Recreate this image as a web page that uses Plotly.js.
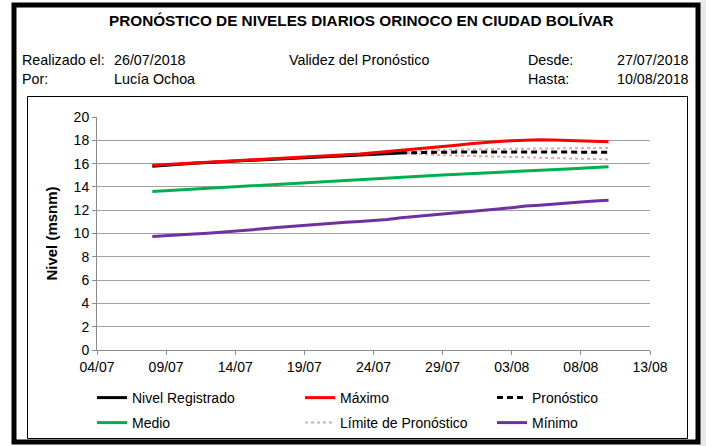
<!DOCTYPE html>
<html>
<head>
<meta charset="utf-8">
<script src="https://cdn.plot.ly/plotly-3.0.1.min.js"></script>
<style>html,body{margin:0;padding:0;background:#fff;}#chart{width:706px;height:446px;}</style>
</head>
<body>
<div id="chart"></div>
<script>
// ---- data ----
const obsDates = ["2018-07-08","2018-07-09","2018-07-10","2018-07-11","2018-07-12","2018-07-13","2018-07-14","2018-07-15","2018-07-16","2018-07-17","2018-07-18","2018-07-19","2018-07-20","2018-07-21","2018-07-22","2018-07-23","2018-07-24","2018-07-25","2018-07-26"];
const fcDates = ["2018-07-26","2018-07-27","2018-07-28","2018-07-29","2018-07-30","2018-07-31","2018-08-01","2018-08-02","2018-08-03","2018-08-04","2018-08-05","2018-08-06","2018-08-07","2018-08-08","2018-08-09","2018-08-10"];
const allDates = obsDates.slice(0, 18).concat(fcDates);
const nivelRegistrado = [15.78,15.88,15.96,16.03,16.10,16.16,16.23,16.30,16.37,16.44,16.50,16.56,16.62,16.68,16.74,16.79,16.83,16.87,16.92];
const maximo = [15.85,15.93,16.00,16.06,16.12,16.18,16.25,16.32,16.40,16.46,16.52,16.58,16.64,16.70,16.76,16.82,16.92,17.05,17.15,17.25,17.35,17.45,17.57,17.70,17.82,17.90,17.97,18.02,18.04,18.03,17.98,17.92,17.88,17.87];
const medio = [13.60,13.67,13.75,13.82,13.89,13.96,14.03,14.10,14.17,14.24,14.31,14.38,14.45,14.52,14.58,14.65,14.72,14.78,14.84,14.90,14.96,15.02,15.07,15.13,15.19,15.24,15.30,15.36,15.42,15.48,15.54,15.60,15.66,15.72];
const minimo = [9.75,9.80,9.88,9.95,10.02,10.10,10.20,10.30,10.40,10.52,10.62,10.70,10.82,10.90,10.97,11.03,11.10,11.20,11.35,11.45,11.55,11.65,11.75,11.87,11.98,12.10,12.22,12.36,12.43,12.50,12.60,12.70,12.78,12.85];
const pronostico = [16.92,16.95,16.97,16.98,16.99,17.00,17.00,17.00,17.00,17.00,16.99,16.99,16.98,16.98,16.98,16.98];
const limiteSup = [16.95,17.05,17.12,17.17,17.20,17.22,17.24,17.26,17.27,17.28,17.30,17.31,17.32,17.33,17.34,17.35];
const limiteInf = [16.90,16.82,16.76,16.72,16.69,16.66,16.63,16.60,16.57,16.54,16.51,16.48,16.45,16.42,16.39,16.36];
const tickVals = ["2018-07-04","2018-07-09","2018-07-14","2018-07-19","2018-07-24","2018-07-29","2018-08-03","2018-08-08","2018-08-13"];
const tickText = ["04/07","09/07","14/07","19/07","24/07","29/07","03/08","08/08","13/08"];

// ---- helpers (pixel -> paper) ----
const L = 97, R = 650, T = 117, B = 350;
const px = x => (x - L) / (R - L);
const py = y => (B - y) / (B - T);
const FONT = "Arial, 'Liberation Sans', sans-serif";

const traces = [
  {x: allDates, y: medio, name: "Medio", mode: "lines", line: {color: "#00B050", width: 3}, legend: "legend4"},
  {x: allDates, y: minimo, name: "Mínimo", mode: "lines", line: {color: "#7030A0", width: 3}, legend: "legend6"},
  {x: fcDates, y: limiteSup, name: "Límite de Pronóstico", mode: "lines", line: {color: "#E6A6A6", width: 2, dash: "dot"}, legend: "legend5"},
  {x: fcDates, y: limiteInf, name: "Límite de Pronóstico", mode: "lines", showlegend: false, line: {color: "#E6A6A6", width: 2, dash: "dot"}, legend: "legend5"},
  {x: obsDates, y: nivelRegistrado, name: "Nivel Registrado", mode: "lines", line: {color: "#000000", width: 3}, legend: "legend"},
  {x: allDates, y: maximo, name: "Máximo", mode: "lines", line: {color: "#FF0000", width: 3}, legend: "legend2"},
  {x: fcDates, y: pronostico, name: "Pronóstico", mode: "lines", line: {color: "#000000", width: 3, dash: "6px,4px"}, legend: "legend3"}
];

const legendAt = (x, y) => ({
  orientation: "v", x: px(x), y: py(y), xanchor: "left", yanchor: "middle",
  itemwidth: 30, font: {family: FONT, size: 14, color: "#000"}, bgcolor: "rgba(0,0,0,0)", borderwidth: 0
});

const ann = (x, y, text, opts = {}) => Object.assign({
  xref: "paper", yref: "paper", x: px(x), y: py(y), text: text, showarrow: false,
  xanchor: "left", yanchor: "middle", font: {family: FONT, size: 14.3, color: "#000"}
}, opts);

const layout = {
  width: 706, height: 446,
  margin: {l: L, r: 706 - R, t: T, b: 446 - B, autoexpand: false},
  paper_bgcolor: "#ffffff", plot_bgcolor: "rgba(0,0,0,0)",
  font: {family: FONT, size: 14, color: "#000"},
  showlegend: true,
  legend: legendAt(92, 398),
  legend2: legendAt(300, 398),
  legend3: legendAt(492, 398),
  legend4: legendAt(92, 423),
  legend5: legendAt(300, 423),
  legend6: legendAt(492, 423),
  xaxis: {
    type: "date", range: ["2018-07-04", "2018-08-13"], tickvals: tickVals, ticktext: tickText,
    showgrid: false, zeroline: false, showline: true, linecolor: "#8c8c8c", linewidth: 1,
    ticks: "outside", ticklen: 4, tickcolor: "#8c8c8c", tickfont: {family: FONT, size: 14}
  },
  yaxis: {
    range: [0, 20], dtick: 2, tick0: 0, showgrid: true, gridcolor: "#a0a0a0", gridwidth: 1,
    zeroline: false, showline: true, linecolor: "#8c8c8c", linewidth: 1,
    ticks: "outside", ticklen: 4, tickcolor: "#8c8c8c", tickfont: {family: FONT, size: 14},
    title: {text: "<b>Nivel (msnm)</b>", font: {family: FONT, size: 15}, standoff: 12}
  },
  shapes: [
    {type: "rect", xref: "paper", yref: "paper", x0: px(700), x1: px(706), y0: py(0), y1: py(446), fillcolor: "#e8e8e8", line: {width: 0}, layer: "below"},
    {type: "rect", xref: "paper", yref: "paper", x0: px(14), x1: px(698), y0: py(5), y1: py(442), line: {color: "#000", width: 5}, layer: "below"},
    {type: "rect", xref: "paper", yref: "paper", x0: px(27.5), x1: px(687.5), y0: py(96.5), y1: py(438.5), line: {color: "#000", width: 1}, layer: "below"}
  ],
  annotations: [
    ann(361, 20, "<b>PRONÓSTICO DE NIVELES DIARIOS ORINOCO EN CIUDAD BOLÍVAR</b>", {xanchor: "center", font: {family: FONT, size: 15.3, color: "#000"}}),
    ann(20, 60, "Realizado el:"),
    ann(112, 60, "26/07/2018"),
    ann(287, 60, "Validez del Pronóstico"),
    ann(526, 60, "Desde:"),
    ann(691, 60, "27/07/2018", {xanchor: "right"}),
    ann(20, 79, "Por:"),
    ann(112, 79, "Lucía Ochoa"),
    ann(526, 79, "Hasta:"),
    ann(691, 79, "10/08/2018", {xanchor: "right"})
  ]
};

Plotly.newPlot("chart", traces, layout, {displayModeBar: false, staticPlot: true});
</script>
</body>
</html>
